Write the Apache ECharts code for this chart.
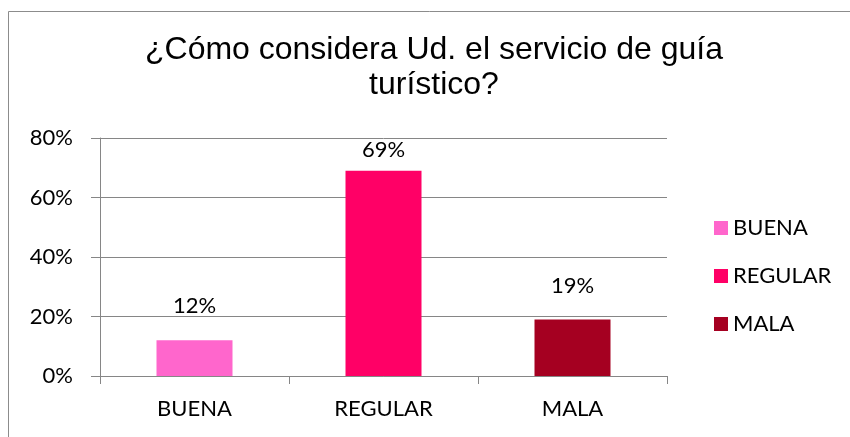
<!DOCTYPE html>
<html>
<head>
<meta charset="utf-8">
<script src="https://cdn.jsdelivr.net/npm/echarts@6/dist/echarts.min.js"></script>
<style>
  html, body { margin: 0; padding: 0; background: #fff; }
  #main { width: 850px; height: 437px; }
</style>
</head>
<body>
<div id="main"></div>
<script>
// datos del gráfico
var categories = ['BUENA', 'REGULAR', 'MALA'];
var values = [12, 69, 19];
var colors = ['#FF66CC', '#FF0066', '#A50021'];
var yTicks = [0, 20, 40, 60, 80];

var myChart = echarts.init(document.getElementById('main'));
var labelFont = 'Lato, "Open Sans", sans-serif';

var series = [];
for (var i = 0; i < categories.length; i++) {
    var d = categories.map(function () { return '-'; });
    d[i] = values[i];
    series.push({
        name: categories[i],
        type: 'bar',
        stack: 'total',
        barWidth: 76,
        data: d,
        itemStyle: { color: colors[i] },
        label: {
            show: true,
            position: 'top',
            // la etiqueta alta queda apretada bajo la línea del 80%
            distance: values[i] > 60 ? 10 : 23,
            formatter: '{c}%',
            color: '#000',
            fontSize: 22,
            fontFamily: labelFont
        }
    });
}

option = {
    animation: false,
    backgroundColor: '#fff',
    graphic: [{
        type: 'rect',
        shape: { x: 8.5, y: 11.5, width: 860, height: 440 },
        style: { fill: 'none', stroke: '#8c8c8c', lineWidth: 1 },
        silent: true
    }],
    title: {
        text: '¿Cómo considera Ud. el servicio de guía\nturístico?',
        left: 434,
        top: 33,
        padding: 0,
        textAlign: 'center',
        textStyle: {
            fontFamily: '"Liberation Sans", Arial, sans-serif',
            fontWeight: 'normal',
            fontSize: 32,
            lineHeight: 35,
            color: '#000'
        }
    },
    legend: {
        orient: 'vertical',
        left: 709,
        top: 212,
        icon: 'rect',
        itemWidth: 14,
        itemHeight: 14,
        itemGap: 26,
        data: categories,
        textStyle: { fontSize: 22, fontFamily: labelFont, color: '#000', padding: [0, 0, 0, 0] }
    },
    grid: {
        left: 100,
        right: 183,
        top: 138,
        bottom: 61
    },
    xAxis: [{
        type: 'category',
        data: categories,
        axisLine: { lineStyle: { color: '#868686' } },
        axisTick: { show: true, length: 8, lineStyle: { color: '#868686' } },
        axisLabel: { fontSize: 22, fontFamily: labelFont, color: '#000', margin: 22 }
    }],
    yAxis: [{
        type: 'value',
        min: yTicks[0],
        max: yTicks[yTicks.length - 1],
        interval: 20,
        axisLine: { show: true, lineStyle: { color: '#868686' } },
        axisTick: { show: true, length: 9, lineStyle: { color: '#868686' } },
        splitLine: { lineStyle: { color: '#868686' } },
        axisLabel: { formatter: '{value}%', fontSize: 22, fontFamily: labelFont, color: '#000', margin: 27 }
    }],
    series: series
};

myChart.setOption(option);
</script>
</body>
</html>
